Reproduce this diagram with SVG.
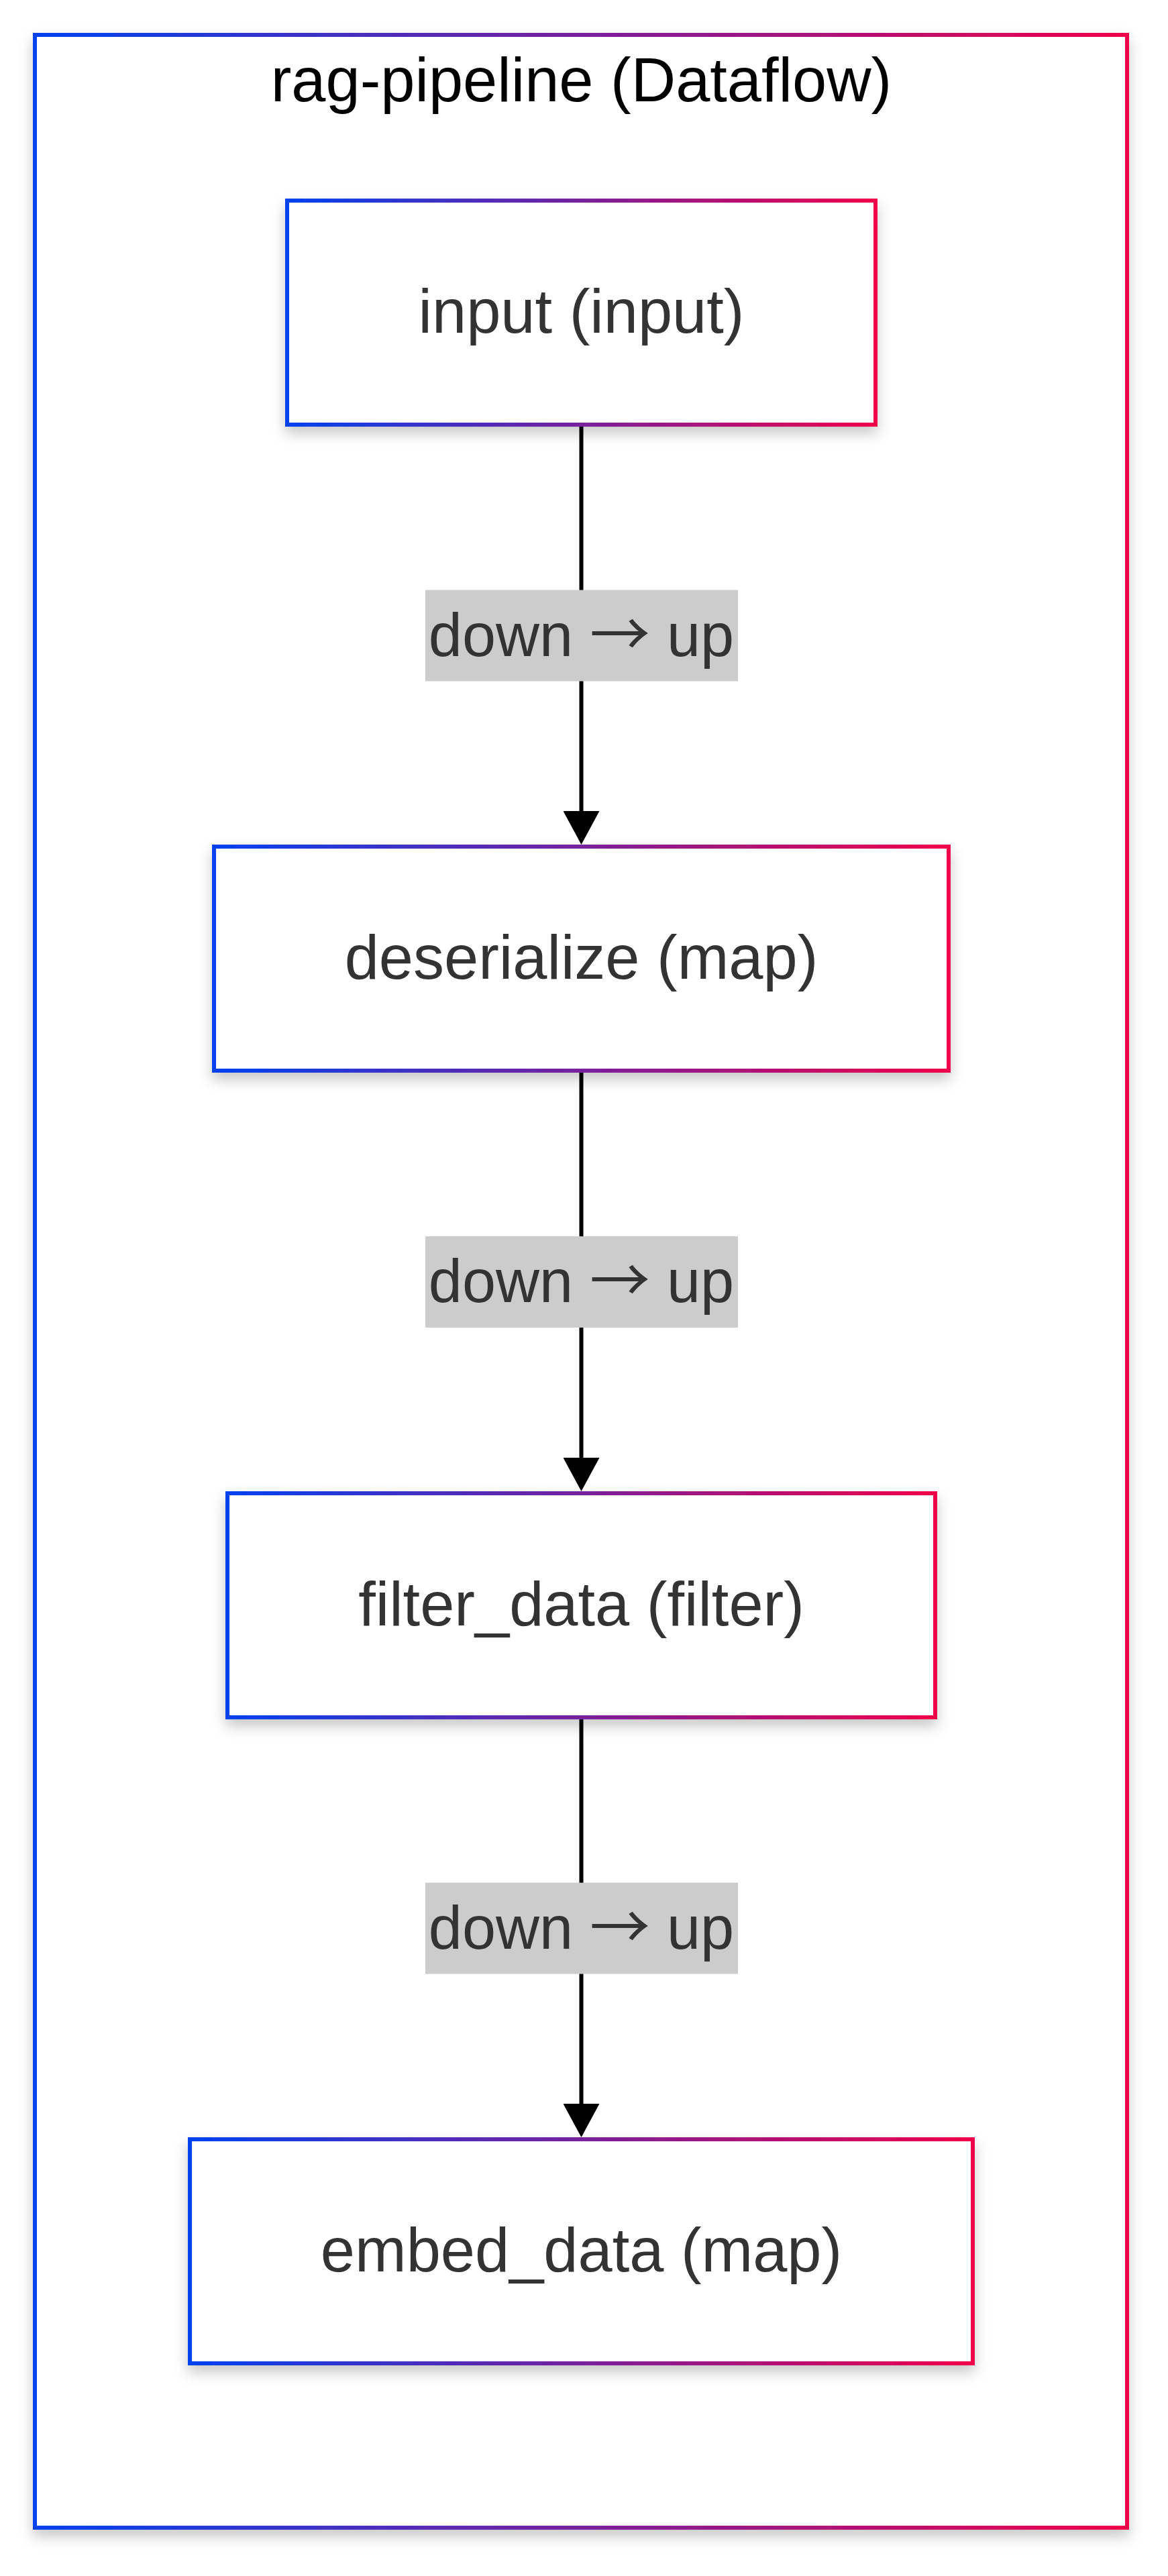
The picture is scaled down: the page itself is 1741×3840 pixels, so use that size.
<svg xmlns="http://www.w3.org/2000/svg" width="1741" height="3840" viewBox="0 0 1741 3840">
<style>
  .frame { fill: #ffffff; stroke: url(#grad); stroke-width: 6; filter: url(#shadow); }
  .node rect { fill: #ffffff; stroke: url(#grad); stroke-width: 6; filter: url(#shadow); }
  .node text { font-family: "Liberation Sans", Arial, sans-serif; font-size: 92px; fill: #333333; text-anchor: middle; }
  .title { font-family: "Liberation Sans", Arial, sans-serif; font-size: 92px; fill: #000000; text-anchor: middle; }
  .edge { fill: none; stroke: #000000; stroke-width: 6; marker-end: url(#arrow); }
  .lbl rect { fill: #cccccc; }
  .lbl text { font-family: "Liberation Sans", Arial, sans-serif; font-size: 90px; fill: #333333; text-anchor: middle; }
  .lbl .ar { font-family: "Noto Sans CJK SC", "Noto Sans CJK JP", sans-serif; }
</style>
<defs>
  <linearGradient id="grad" x1="0" y1="0" x2="1" y2="0">
    <stop offset="0" stop-color="#0042f0"/>
    <stop offset="1" stop-color="#f0004a"/>
  </linearGradient>
  <filter id="shadow" x="-10%" y="-10%" width="120%" height="130%">
    <feDropShadow dx="0" dy="10" stdDeviation="10" flood-color="#000000" flood-opacity="0.22"/>
  </filter>
  <marker id="arrow" markerUnits="userSpaceOnUse" markerWidth="50" markerHeight="54" refX="0" refY="27" orient="auto" viewBox="0 0 50 54">
    <path d="M0,0 L50,27 L0,54 Z" fill="#000000"/>
  </marker>
</defs>

<g id="cluster-rag-pipeline">
  <rect class="frame" x="52" y="52" width="1628" height="3716"/>
  <text class="title" x="866.5" y="151">rag-pipeline (Dataflow)</text>
</g>

<g id="connectors">
  <path class="edge" d="M866.5,636 V1209"/>
  <path class="edge" d="M866.5,1599 V2173"/>
  <path class="edge" d="M866.5,2563 V3136"/>
  <g class="lbl" id="label-1">
    <rect x="634" y="879.5" width="466" height="136"/>
    <text x="866.5" y="977.5">down <tspan class="ar">→</tspan> up</text>
  </g>
  <g class="lbl" id="label-2">
    <rect x="634" y="1843" width="466" height="136"/>
    <text x="866.5" y="1941">down <tspan class="ar">→</tspan> up</text>
  </g>
  <g class="lbl" id="label-3">
    <rect x="634" y="2806.5" width="466" height="136"/>
    <text x="866.5" y="2904.5">down <tspan class="ar">→</tspan> up</text>
  </g>
</g>

<g class="node" id="node-input">
  <rect x="428" y="299" width="877" height="334"/>
  <text x="866.5" y="496">input (input)</text>
</g>
<g class="node" id="node-deserialize">
  <rect x="319" y="1262" width="1095" height="334"/>
  <text x="866.5" y="1459">deserialize (map)</text>
</g>
<g class="node" id="node-filter_data">
  <rect x="339" y="2226" width="1055" height="334"/>
  <text x="866.5" y="2423">filter_data (filter)</text>
</g>
<g class="node" id="node-embed_data">
  <rect x="283" y="3189" width="1167" height="334"/>
  <text x="866.5" y="3386">embed_data (map)</text>
</g>
</svg>
